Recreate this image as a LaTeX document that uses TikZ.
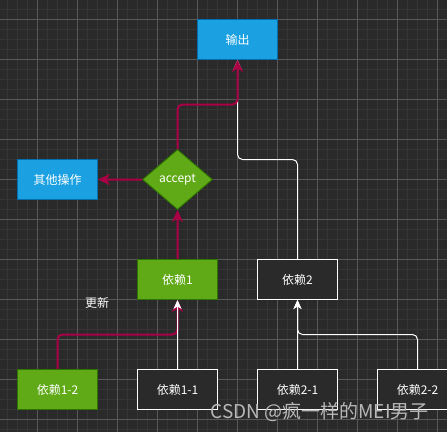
\documentclass[tikz,border=0pt]{standalone}
\usepackage{fontspec}
\setmainfont{Noto Sans CJK SC}
\usetikzlibrary{shapes.geometric,arrows.meta,calc}

\definecolor{bgdark}{HTML}{2A2A2A}
\definecolor{gridminor}{HTML}{353535}
\definecolor{gridmajor}{HTML}{585858}
\definecolor{boxblue}{HTML}{1BA1E2}
\definecolor{lineblue}{HTML}{006EAF}
\definecolor{boxgreen}{HTML}{60A917}
\definecolor{linegreen}{HTML}{2D7600}
\definecolor{flowred}{HTML}{AA0046}

\begin{document}
\begin{tikzpicture}[x=1pt,y=-1pt,
    box/.style={rectangle,minimum width=80pt,minimum height=40pt,inner sep=0pt,
        line width=0.9pt,text=white,font=\fontsize{12}{14}\selectfont},
    bluebox/.style={box,fill=boxblue,draw=lineblue},
    greenbox/.style={box,fill=boxgreen,draw=linegreen},
    darkbox/.style={box,fill=bgdark,draw=white},
    check/.style={diamond,aspect=1.1667,minimum width=70pt,minimum height=60pt,inner sep=0pt,
        fill=boxgreen,draw=linegreen,line width=0.9pt,text=white,font=\fontsize{12}{14}\selectfont},
    flow/.style={draw=flowred,line width=2pt,
        -{Stealth[length=12pt,width=11pt,inset=3.5pt]}},
    dep/.style={draw=white,line width=1pt,
        -{Stealth[length=9pt,width=8pt,inset=2.5pt]}}]
    \useasboundingbox (0,0) rectangle (447,432);
    \fill[bgdark] (0,0) rectangle (447,432);

    % grid
    \foreach \x in {7.5,17.5,...,447}
        \draw[gridminor,line width=0.6pt] (\x,0) -- (\x,432);
    \foreach \y in {9.5,19.5,...,432}
        \draw[gridminor,line width=0.6pt] (0,\y) -- (447,\y);
    \foreach \x in {37.5,77.5,...,447}
        \draw[gridmajor,line width=0.6pt] (\x,0) -- (\x,432);
    \foreach \y in {19.5,59.5,...,432}
        \draw[gridmajor,line width=0.6pt] (0,\y) -- (447,\y);

    % nodes
    \node[bluebox]  (out)   at (237.5,39.5)  {输出};
    \node[bluebox]  (other) at (57.5,179.5)  {其他操作};
    \node[check]    (acc)   at (177.5,179.5) {accept};
    \node[greenbox] (dep1)  at (177.5,279.5) {依赖1};
    \node[darkbox]  (dep2)  at (297.5,279.5) {依赖2};
    \node[greenbox] (dep12) at (57.5,389.5)  {依赖1-2};
    \node[darkbox]  (dep11) at (177.5,389.5) {依赖1-1};
    \node[darkbox]  (dep21) at (297.5,389.5) {依赖2-1};
    \begin{scope}
        \clip (0,0) rectangle (447,432);
        \node[darkbox]  (dep22) at (417.5,389.5) {依赖2-2};
    \end{scope}
    \node[text=white,font=\fontsize{12}{14}\selectfont] (upd) at (97,303) {更新};

    % connectors
    \draw[dep,rounded corners=5pt] (dep2.north) |- ($(dep2.north)!0.5!(out.south)$) -| (out.south);
    \draw[flow,rounded corners=5pt] (acc.north) |- ($(acc.north)!0.5!(out.south)$) -| (out.south);
    \draw[flow] (dep1.north) .. controls ($(dep1.north)!0.3!(acc.south)$) and ($(dep1.north)!0.7!(acc.south)$) .. (acc.south);
    \draw[flow] (acc.west) .. controls ($(acc.west)!0.3!(other.east)$) and ($(acc.west)!0.7!(other.east)$) .. (other.east);
    \draw[flow,rounded corners=5pt] (dep12.north) |- ($(dep12.north)!0.5!(dep1.south)$) -| (dep1.south);
    \draw[dep] (dep11.north) .. controls ($(dep11.north)!0.3!(dep1.south)$) and ($(dep11.north)!0.7!(dep1.south)$) .. (dep1.south);
    \draw[dep] (dep21.north) .. controls ($(dep21.north)!0.3!(dep2.south)$) and ($(dep21.north)!0.7!(dep2.south)$) .. (dep2.south);
    \draw[dep,rounded corners=5pt] (dep22.north) |- ($(dep22.north)!0.5!(dep2.south)$) -| (dep2.south);

    \node[text=white!72!black,font=\fontsize{19}{21}\selectfont] (mark) at (319.5,412) {CSDN @疯一样的MEI男子};
\end{tikzpicture}
\end{document}
